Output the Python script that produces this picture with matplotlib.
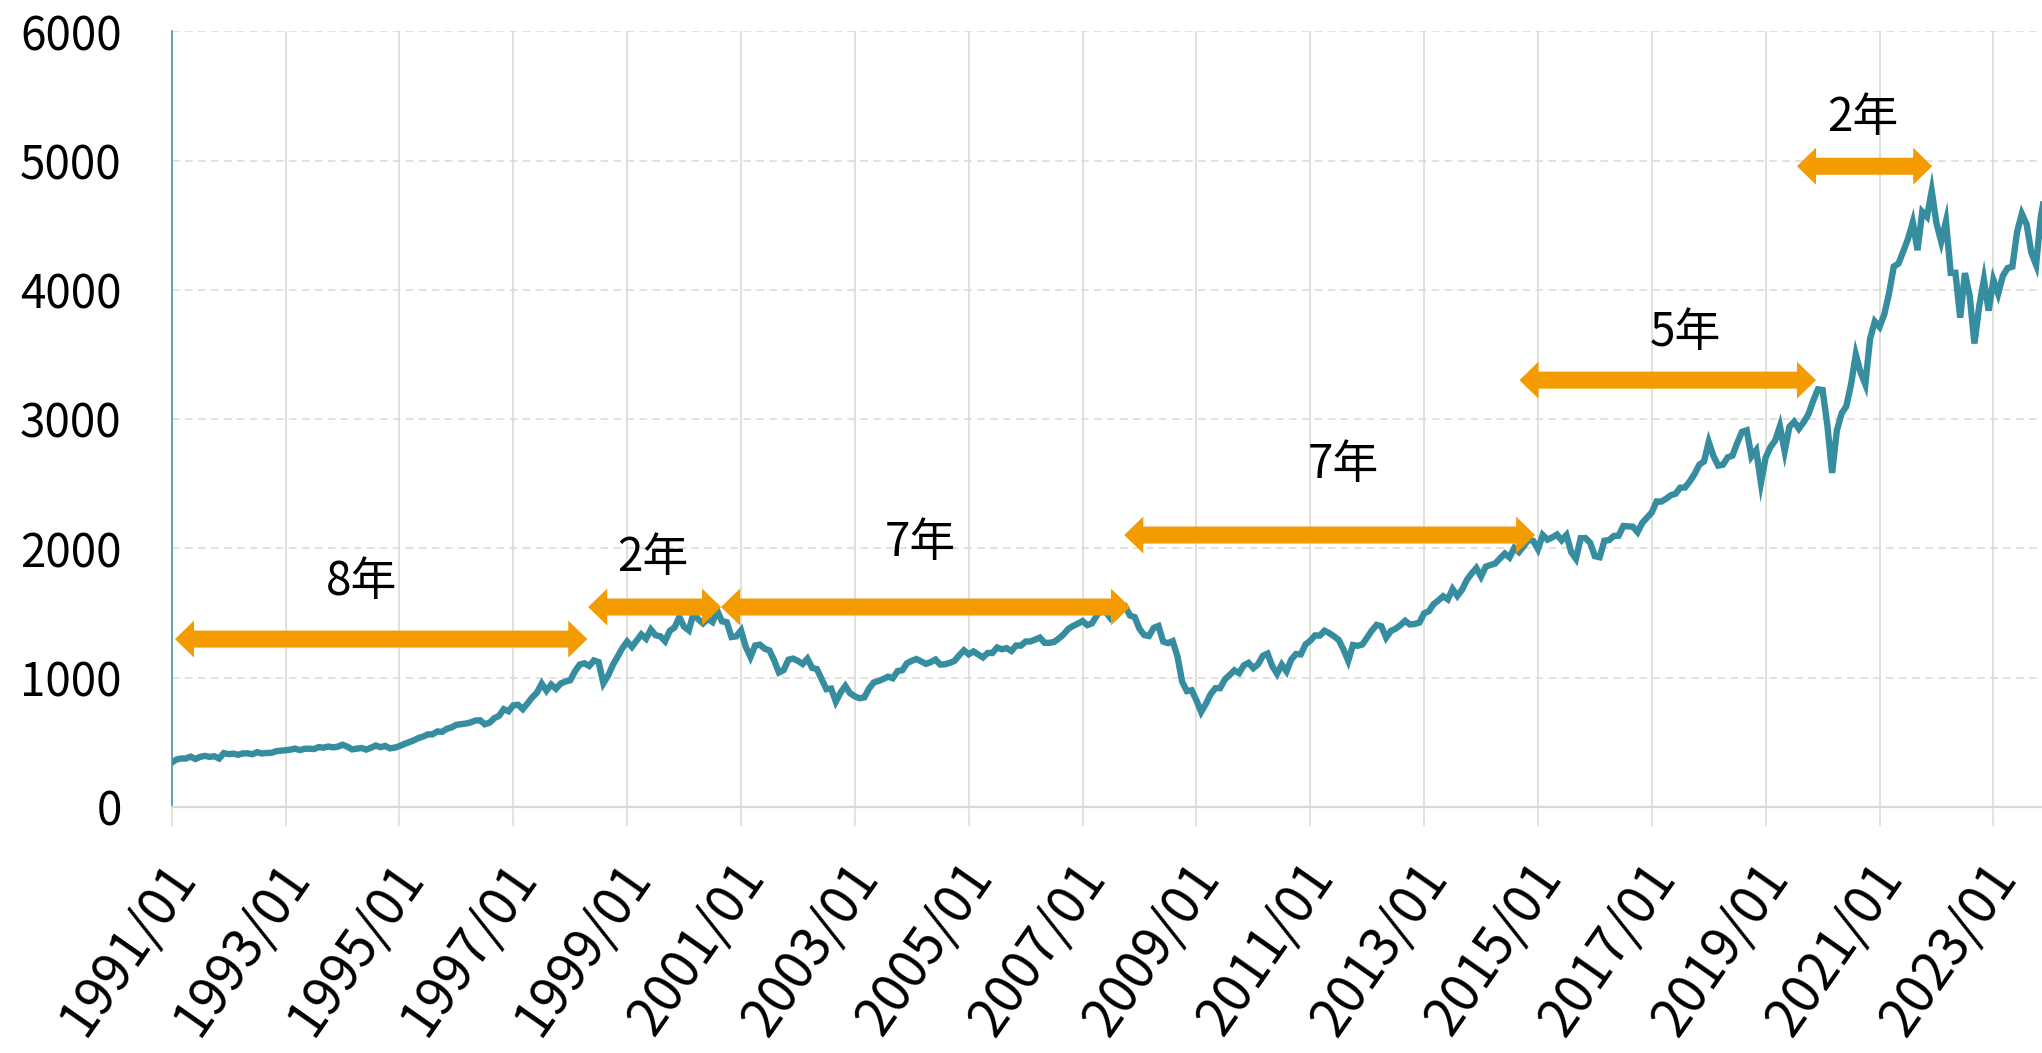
import numpy as np
import matplotlib
matplotlib.use("Agg")
import matplotlib.pyplot as plt
from matplotlib.patches import Polygon
from matplotlib.transforms import IdentityTransform, ScaledTranslation

plt.rcParams['font.family'] = ['Noto Sans CJK JP', 'DejaVu Sans']

# ---------------- data ----------------
start_year = 1991
# monthly closing values, 1991/01 ... 2023/12
monthly_close = [
    343.9, 367.1, 375.2, 375.3, 389.8, 371.2, 387.8, 395.4, 387.9, 392.5, 375.2, 417.1,      # 1991
    408.8, 412.7, 403.7, 414.9, 415.4, 408.1, 424.2, 414.0, 417.8, 418.7, 431.4, 435.7,      # 1992
    438.8, 443.4, 451.7, 440.2, 450.2, 451.0, 448.1, 463.6, 458.9, 467.8, 461.8, 466.5,      # 1993
    481.6, 467.1, 445.8, 450.9, 456.5, 444.3, 458.3, 475.5, 462.7, 472.4, 453.7, 459.3,      # 1994
    470.4, 487.4, 500.7, 514.7, 533.4, 544.8, 562.1, 561.9, 584.4, 581.5, 605.4, 615.9,      # 1995
    636.0, 640.4, 645.5, 654.2, 669.1, 670.6, 639.9, 652.0, 687.3, 705.3, 757.0, 740.7,      # 1996
    786.2, 790.8, 757.1, 801.3, 848.3, 885.1, 954.3, 899.5, 947.3, 914.6, 955.4, 970.4,      # 1997
    980.3, 1049.3, 1101.8, 1111.8, 1090.8, 1133.8, 1120.7, 957.3, 1017.0, 1098.7, 1163.6, 1229.2,  # 1998
    1279.6, 1238.3, 1286.4, 1335.2, 1301.8, 1372.7, 1328.7, 1320.4, 1282.7, 1362.9, 1388.9, 1469.3,  # 1999
    1394.5, 1366.4, 1498.6, 1452.4, 1420.6, 1454.6, 1430.8, 1517.7, 1436.5, 1429.4, 1315.2, 1320.3,  # 2000
    1366.0, 1239.9, 1160.3, 1249.5, 1255.8, 1224.4, 1211.2, 1133.6, 1040.9, 1059.8, 1139.5, 1148.1,  # 2001
    1130.2, 1106.7, 1147.4, 1076.9, 1067.1, 989.8, 911.6, 916.1, 815.3, 885.8, 936.3, 879.8,        # 2002
    855.7, 841.2, 848.2, 916.9, 963.6, 974.5, 990.3, 1008.0, 996.0, 1050.7, 1058.2, 1111.9,         # 2003
    1131.1, 1144.9, 1126.2, 1107.3, 1120.7, 1140.8, 1101.7, 1104.2, 1114.6, 1130.2, 1173.8, 1211.9, # 2004
    1181.3, 1203.6, 1180.6, 1156.9, 1191.5, 1191.3, 1234.2, 1220.3, 1228.8, 1207.0, 1249.5, 1248.3, # 2005
    1280.1, 1280.7, 1294.9, 1310.6, 1270.1, 1270.2, 1276.7, 1303.8, 1335.9, 1377.9, 1400.6, 1418.3, # 2006
    1438.2, 1406.8, 1420.9, 1482.4, 1530.6, 1503.4, 1455.3, 1474.0, 1526.8, 1549.4, 1481.1, 1468.4, # 2007
    1378.6, 1330.6, 1322.7, 1385.6, 1400.4, 1280.0, 1267.4, 1282.8, 1166.4, 968.8, 896.2, 903.3,    # 2008
    825.9, 735.1, 797.9, 872.8, 919.1, 919.3, 987.5, 1020.6, 1057.1, 1036.2, 1095.6, 1115.1,        # 2009
    1073.9, 1104.5, 1169.4, 1186.7, 1089.4, 1030.7, 1101.6, 1049.3, 1141.2, 1183.3, 1180.6, 1257.6, # 2010
    1286.1, 1327.2, 1325.8, 1363.6, 1345.2, 1320.6, 1292.3, 1218.9, 1131.4, 1253.3, 1247.0, 1257.6, # 2011
    1312.4, 1365.7, 1408.5, 1397.9, 1310.3, 1362.2, 1379.3, 1406.6, 1440.7, 1412.2, 1416.2, 1426.2, # 2012
    1498.1, 1514.7, 1569.2, 1597.6, 1630.7, 1606.3, 1685.7, 1633.0, 1681.6, 1756.5, 1805.8, 1848.4, # 2013
    1782.6, 1859.5, 1872.3, 1884.0, 1923.6, 1960.2, 1930.7, 2003.4, 1972.3, 2018.1, 2067.6, 2058.9, # 2014
    1995.0, 2104.5, 2067.9, 2085.5, 2107.4, 2063.1, 2103.8, 1972.2, 1920.0, 2079.4, 2080.4, 2043.9, # 2015
    1940.2, 1932.2, 2059.7, 2065.3, 2096.9, 2098.9, 2173.6, 2171.0, 2168.3, 2126.2, 2198.8, 2238.8, # 2016
    2278.9, 2363.6, 2362.7, 2384.2, 2411.8, 2423.4, 2470.3, 2471.7, 2519.4, 2575.3, 2647.6, 2673.6, # 2017
    2823.8, 2713.8, 2640.9, 2648.1, 2705.3, 2718.4, 2816.3, 2901.5, 2914.0, 2711.7, 2760.2, 2506.9, # 2018
    2704.1, 2784.5, 2834.4, 2945.8, 2752.1, 2941.8, 2980.4, 2926.5, 2976.7, 3037.6, 3141.0, 3230.8, # 2019
    3225.5, 2954.2, 2584.6, 2912.4, 3044.3, 3100.3, 3271.1, 3500.3, 3363.0, 3270.0, 3621.6, 3756.1, # 2020
    3714.2, 3811.2, 3972.9, 4181.2, 4204.1, 4297.5, 4395.3, 4522.7, 4307.5, 4605.4, 4567.0, 4766.2, # 2021
    4515.6, 4373.9, 4530.4, 4131.9, 4132.2, 3785.4, 4130.3, 3955.0, 3585.6, 3872.0, 4080.1, 3839.5, # 2022
    4076.6, 3970.2, 4109.3, 4169.5, 4179.8, 4450.4, 4589.0, 4507.7, 4288.1, 4193.8, 4567.8, 4769.8, # 2023
]

tick_years = list(range(1991, 2024, 2))
tick_labels = [f"{y}/01" for y in tick_years]
yticks = [0, 1000, 2000, 3000, 4000, 5000, 6000]

# period arrows (month index from 1991/01) and labels
arrow_start = [0.7, 87.8, 115.8, 200.8, 284.1, 342.6]
arrow_end = [87.6, 115.8, 202.0, 287.4, 346.6, 371.1]
arrow_level = [1299, 1547, 1547, 2104, 3302, 4957]
label_text = ['8年', '2年', '7年', '7年', '5年', '2年']
label_x = [40.1, 101.4, 157.8, 246.9, 319.1, 356.5]
label_y = [1742, 1926, 2042, 2645, 3666, 5329]

# ---------------- styles ----------------
LINE_COLOR = '#368da0'
ARROW_COLOR = '#f39b00'
VGRID = '#dcdcd0'
HGRID = '#d9d9d9'

W, H = 2042, 1053
fig = plt.figure(figsize=(W / 100, H / 100), dpi=100)
left_px, right_px, bottom_px, top_px = 171.7, 2042, 807, 31.4
ax = fig.add_axes([left_px / W, 1 - bottom_px / H, (right_px - left_px) / W, (bottom_px - top_px) / H])

x = np.arange(len(monthly_close))
ax.plot(x, monthly_close, color=LINE_COLOR, lw=4.6, solid_joinstyle='miter', zorder=2)

ax.set_xlim(0, (right_px - left_px) / 4.744)
ax.set_ylim(0, 6000)

tick_pos = [(y - start_year) * 12 for y in tick_years]
ax.set_xticks(tick_pos)
ax.set_xticklabels(tick_labels, rotation=55, ha='right', va='center',
                   rotation_mode='anchor', fontsize=38)
ax.set_yticks(yticks)
ax.set_yticklabels([str(v) for v in yticks], fontsize=33)

ax.tick_params(axis='x', length=13.7, width=1.1, color=VGRID, direction='out', pad=30)
ax.tick_params(axis='y', length=0, pad=36)

offset = ScaledTranslation(12 / 100, 0, fig.dpi_scale_trans)
for lab in ax.get_xticklabels():
    lab.set_transform(lab.get_transform() + offset)

ax.grid(axis='x', color=VGRID, lw=1.2, zorder=0)
ax.grid(axis='y', color=HGRID, lw=1.1, ls=(0, (5, 3.5)), zorder=0)
ax.set_axisbelow(True)

for s in ['top', 'right']:
    ax.spines[s].set_visible(False)
ax.spines['bottom'].set_color(HGRID)
ax.spines['bottom'].set_linewidth(1.6)
ax.spines['left'].set_color('#4a93a8')
ax.spines['left'].set_linewidth(1.2)

fig.canvas.draw()


def double_arrow(x0, x1, yv, body=17, head_h=37, head_l=19):
    X0, Y = ax.transData.transform((x0, yv))
    X1, _ = ax.transData.transform((x1, yv))
    b, h = body / 2, head_h / 2
    pts = [(X0, Y), (X0 + head_l, Y + h), (X0 + head_l, Y + b), (X1 - head_l, Y + b),
           (X1 - head_l, Y + h), (X1, Y), (X1 - head_l, Y - h), (X1 - head_l, Y - b),
           (X0 + head_l, Y - b), (X0 + head_l, Y - h)]
    poly = Polygon(pts, closed=True, facecolor=ARROW_COLOR, edgecolor='none',
                   transform=IdentityTransform(), zorder=3)
    ax.add_patch(poly)


for a0, a1, lv in zip(arrow_start, arrow_end, arrow_level):
    double_arrow(a0, a1, lv)

for t, tx, ty in zip(label_text, label_x, label_y):
    ax.text(tx, ty, t, ha='center', va='center', fontsize=33, color='black', zorder=4)

fig.savefig('out.png', dpi=100)
